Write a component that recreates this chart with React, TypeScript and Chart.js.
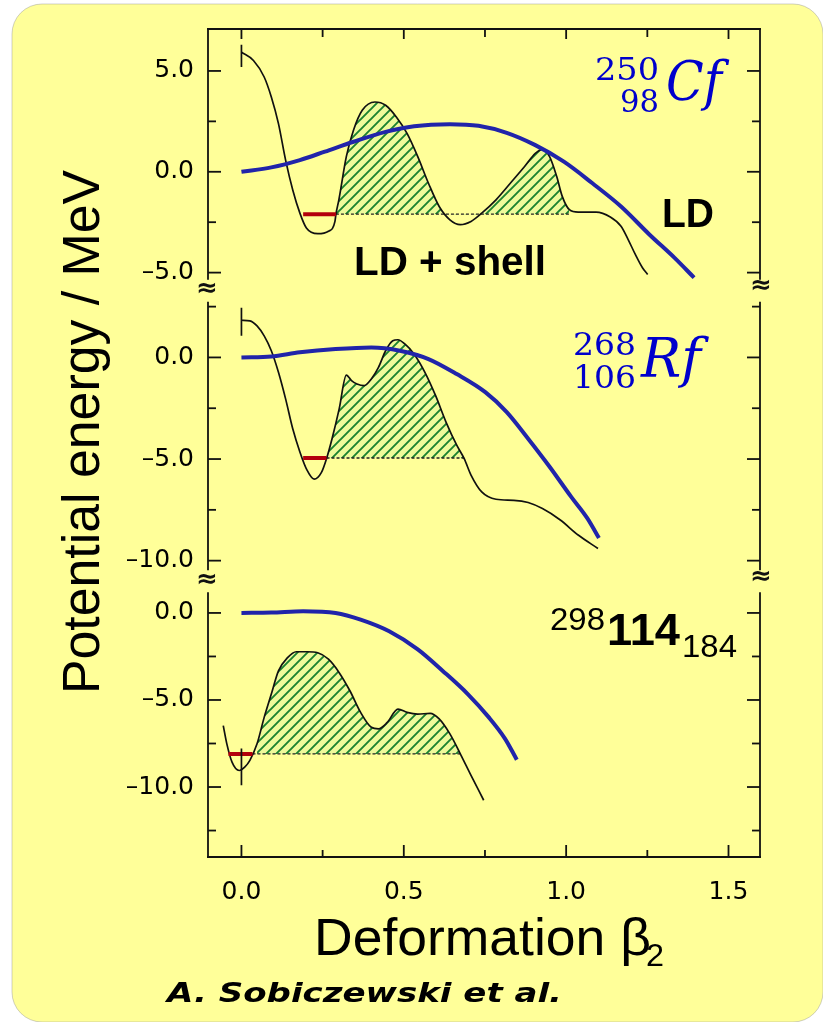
import React, { useEffect, useRef } from 'react';
import { Chart, registerables } from 'chart.js';
Chart.register(...registerables);

// ---------- data ----------
const betaTicks = [0, 0.25, 0.5, 0.75, 1, 1.25, 1.5];
const cfTicks = [-5, -2.5, 0, 2.5, 5];
const rfTicks = [-10, -7.5, -5, -2.5, 0, 2.5];
const shTicks = [-12.5, -10, -7.5, -5, -2.5, 0];

// 250Cf
const cfShellBeta = [0, 0.037, 0.07, 0.092, 0.114, 0.136, 0.158, 0.18, 0.2, 0.235, 0.268, 0.288, 0.291, 0.3, 0.323, 0.345, 0.372, 0.411, 0.444, 0.477, 0.51, 0.543, 0.576, 0.609, 0.642, 0.674, 0.707, 0.74, 0.784, 0.828, 0.872, 0.905, 0.927, 0.949, 0.971, 0.988, 1.01, 1.037, 1.092, 1.136, 1.169, 1.191, 1.213, 1.235, 1.251];
const cfShellE = [5.93, 5.52, 4.7, 3.71, 2.39, 0.58, -0.9, -2.05, -2.79, -3.07, -2.95, -2.46, -2.1, -1.39, 0.75, 2.06, 3.05, 3.46, 3.3, 2.72, 1.9, 0.75, -0.57, -1.72, -2.38, -2.62, -2.46, -2.05, -1.39, -0.57, 0.26, 0.91, 1.11, 0.75, -0.24, -1.22, -1.88, -2.0, -2.0, -2.24, -2.7, -3.36, -4.1, -4.76, -5.09];
const cfLdBeta = [0, 0.092, 0.18, 0.257, 0.345, 0.444, 0.532, 0.642, 0.73, 0.817, 0.905, 0.993, 1.081, 1.169, 1.257, 1.334, 1.394];
const cfLdE = [0, 0.22, 0.58, 1.0, 1.49, 1.98, 2.26, 2.36, 2.28, 1.93, 1.32, 0.5, -0.57, -1.72, -3.12, -4.27, -5.25];
const cfGround = -2.1;
const cfWell = [0.19, 0.291];
const cfBarrier = [0.291, 1.012];
const cfStartBar = [5.2, 6.3];

// 268Rf
const rfShellBeta = [0, 0.026, 0.048, 0.07, 0.092, 0.114, 0.136, 0.158, 0.18, 0.202, 0.224, 0.246, 0.262, 0.279, 0.301, 0.323, 0.339, 0.356, 0.378, 0.4, 0.422, 0.444, 0.466, 0.482, 0.504, 0.532, 0.565, 0.598, 0.63, 0.663, 0.686, 0.707, 0.74, 0.784, 0.839, 0.883, 0.927, 0.982, 1.037, 1.098];
const rfShellE = [1.83, 1.8, 1.55, 1.06, 0.33, -0.73, -2.04, -3.51, -4.65, -5.55, -5.99, -5.67, -4.98, -4.0, -2.53, -0.87, -1.14, -1.31, -1.39, -1.06, -0.49, 0.33, 0.82, 0.87, 0.65, 0.16, -0.73, -1.88, -3.18, -4.32, -4.98, -5.79, -6.62, -6.98, -7.03, -7.14, -7.44, -8.0, -8.74, -9.4];
const rfLdBeta = [0, 0.092, 0.18, 0.29, 0.4, 0.488, 0.576, 0.663, 0.751, 0.817, 0.883, 0.949, 1.015, 1.065, 1.101];
const rfLdE = [0, 0.05, 0.25, 0.41, 0.49, 0.33, -0.08, -0.82, -1.71, -2.69, -4.0, -5.38, -6.85, -7.91, -8.89];
const rfGround = -4.95;
const rfWell = [0.19, 0.262];
const rfBarrier = [0.262, 0.686];
const rfStartBar = [1.07, 2.45];

// 298-114-184
const shShellBeta = [-0.056, -0.045, -0.029, -0.007, 0.01, 0.026, 0.048, 0.07, 0.092, 0.114, 0.142, 0.169, 0.202, 0.235, 0.268, 0.301, 0.334, 0.367, 0.4, 0.422, 0.449, 0.482, 0.51, 0.543, 0.581, 0.609, 0.642, 0.674, 0.707, 0.746];
const shShellE = [-6.47, -7.52, -8.57, -9.05, -8.86, -8.47, -7.52, -6.0, -4.66, -3.33, -2.57, -2.23, -2.23, -2.29, -2.66, -3.43, -4.47, -5.71, -6.57, -6.66, -6.29, -5.52, -5.71, -5.81, -5.77, -6.09, -6.95, -8.09, -9.33, -10.76];
const shLdBeta = [0, 0.092, 0.19, 0.29, 0.367, 0.455, 0.543, 0.62, 0.697, 0.762, 0.812, 0.848];
const shLdE = [0, 0.02, 0.1, 0, -0.38, -1.05, -2.09, -3.33, -4.66, -6.0, -7.23, -8.43];
const shGround = -8.1;
const shWell = [-0.04, 0.034];
const shBarrier = [0.034, 0.674];
const shStartBar = [-7.79, -9.9];

// ---------- helpers ----------
const pts = (xs: number[], ys: number[]) => xs.map((x, i) => ({ x, y: ys[i] }));
const between = (xs: number[], ys: number[], a: number, b: number) =>
  pts(xs, ys).filter((p) => p.x >= a - 1e-9 && p.x <= b + 1e-9);

const fmt = (v: number) => (v < 0 ? '\u2013' + Math.abs(v).toFixed(1) : v.toFixed(1));
const tickFont = { family: '"DejaVu Sans", sans-serif', size: 25 };

function panelSets(axis: string, hatch: any, sb: number[], se: number[], lb: number[], le: number[], ground: number, well: number[], barrier: number[], bar: number[]) {
  const base = { yAxisID: axis, xAxisID: 'x', pointRadius: 0, pointHoverRadius: 0 };
  return [
    { ...base, data: between(sb, se, barrier[0], barrier[1]), borderWidth: 0, borderColor: 'rgba(0,0,0,0)', cubicInterpolationMode: 'monotone', fill: { target: { value: ground }, above: hatch, below: 'rgba(0,0,0,0)' }, order: 6 },
    { ...base, data: pts(barrier, [ground, ground]), borderColor: '#222', borderWidth: 1.3, borderDash: [3, 2], fill: false, order: 5 },
    { ...base, data: pts(sb, se), borderColor: '#111', borderWidth: 1.7, cubicInterpolationMode: 'monotone', fill: false, order: 3 },
    { ...base, data: pts(lb, le), borderColor: '#2124aa', borderWidth: 4, cubicInterpolationMode: 'monotone', fill: false, order: 2 },
    { ...base, data: pts(well, [ground, ground]), borderColor: '#b3000c', borderWidth: 4, fill: false, order: 1 },
    { ...base, data: pts([0, 0], bar), borderColor: '#111', borderWidth: 1.7, fill: false, order: 0 },
  ];
}

function fitText(c: CanvasRenderingContext2D, text: string, x: number, y: number, w: number, font: string, color: string) {
  c.save();
  c.font = font;
  c.fillStyle = color;
  c.textAlign = 'left';
  c.textBaseline = 'alphabetic';
  const m = c.measureText(text).width;
  c.translate(x, y);
  c.scale(w / m, 1);
  c.fillText(text, 0, 0);
  c.restore();
}

const decoPlugin = {
  id: 'deco',
  beforeDraw(chart: any) {
    const c: CanvasRenderingContext2D = chart.ctx;
    c.save();
    c.fillStyle = '#ffffff';
    c.fillRect(0, 0, chart.width, chart.height);
    const x0 = 12, y0 = 4, x1 = 823, y1 = 1022, r = 30;
    c.beginPath();
    c.moveTo(x0 + r, y0);
    c.lineTo(x1 - r, y0);
    c.arcTo(x1, y0, x1, y0 + r, r);
    c.lineTo(x1, y1 - r);
    c.arcTo(x1, y1, x1 - r, y1, r);
    c.lineTo(x0 + r, y1);
    c.arcTo(x0, y1, x0, y1 - r, r);
    c.lineTo(x0, y0 + r);
    c.arcTo(x0, y0, x0 + r, y0, r);
    c.closePath();
    c.fillStyle = '#FFFF99';
    c.fill();
    c.strokeStyle = 'rgba(150,150,150,0.45)';
    c.lineWidth = 1;
    c.stroke();
    c.restore();
  },
  afterDraw(chart: any) {
    const c: CanvasRenderingContext2D = chart.ctx;
    const { left: L, right: R, top: T, bottom: B } = chart.chartArea;
    const xs = chart.scales.x;
    c.save();
    c.strokeStyle = '#111';
    c.lineWidth = 1.8;
    const line = (a: number, b: number, d: number, e: number) => {
      c.beginPath();
      c.moveTo(a, b);
      c.lineTo(d, e);
      c.stroke();
    };
    line(L - 1, T, R + 1, T);
    line(L - 1, B, R + 1, B);
    const ids = ['y1', 'y2', 'y3'];
    ids.forEach((id, i) => {
      const s = chart.scales[id];
      const top = i === 0 ? s.top : s.top + 13;
      const bot = i === 2 ? s.bottom : s.bottom - 9;
      line(L, top, L, bot);
      line(R, top, R, bot);
      s.ticks.forEach((t: any) => {
        const y = s.getPixelForValue(t.value);
        const len = t.value % 5 === 0 ? 13 : 8;
        line(L, y, L + len, y);
        line(R, y, R - len, y);
      });
    });
    xs.ticks.forEach((t: any) => {
      const x = xs.getPixelForValue(t.value);
      const major = Math.abs(t.value * 2 - Math.round(t.value * 2)) < 1e-6;
      line(x, B, x, B - (major ? 12 : 7));
      line(x, T, x, T + (major ? 10 : 8));
    });
    // axis break marks
    c.fillStyle = '#111';
    c.font = 'bold 26px "DejaVu Sans"';
    c.textAlign = 'center';
    c.textBaseline = 'middle';
    [chart.scales.y1.bottom, chart.scales.y2.bottom].forEach((yb: number) => {
      c.fillText('\u2248', L - 1, yb + 1);
      c.fillText('\u2248', R + 1, yb - 2);
    });
    c.restore();

    // axis titles
    c.save();
    c.font = '51px "Liberation Sans", Arial, sans-serif';
    c.fillStyle = '#000';
    const yt = 'Potential energy / MeV';
    const m = c.measureText(yt).width;
    c.translate(99, 432);
    c.rotate(-Math.PI / 2);
    c.scale(524 / m, 1);
    c.textBaseline = 'alphabetic';
    c.fillText(yt, -m / 2, 0);
    c.restore();

    fitText(c, 'Deformation \u03B2', 314, 955, 337, '52px "Liberation Sans", Arial, sans-serif', '#000');
    fitText(c, '2', 646, 966, 18, '32px "Liberation Sans", Arial, sans-serif', '#000');
    fitText(c, 'A. Sobiczewski et al.', 167, 1002, 395, 'italic bold 27px "DejaVu Sans", sans-serif', '#000');

    // panel annotations
    const blue = '#0000cc';
    const serif = '"DejaVu Serif", serif';
    fitText(c, '250', 595, 80, 64, '32px ' + serif, blue);
    fitText(c, '98', 620, 112, 39, '32px ' + serif, blue);
    fitText(c, 'Cf', 666, 100, 56, 'italic 54px ' + serif, blue);
    fitText(c, '268', 573, 355, 63, '32px ' + serif, blue);
    fitText(c, '106', 573, 388, 63, '32px ' + serif, blue);
    fitText(c, 'Rf', 641, 377, 60, 'italic 54px ' + serif, blue);

    const sans = '"Liberation Sans", Arial, sans-serif';
    fitText(c, 'LD + shell', 354, 275, 192, 'bold 41px ' + sans, '#000');
    fitText(c, 'LD', 662, 227, 52, 'bold 40px ' + sans, '#000');
    fitText(c, '298', 550, 630, 55, '31px ' + sans, '#000');
    fitText(c, '114', 607, 645, 73, 'bold 44px ' + sans, '#000');
    fitText(c, '184', 682, 657, 55, '31px ' + sans, '#000');
  },
};

function yScale(ticks: number[], min: number, max: number, weight: number, stackWeight: number) {
  return {
    type: 'linear',
    position: 'left',
    stack: 'panels',
    stackWeight,
    weight,
    min,
    max,
    grid: { display: false, drawTicks: false },
    border: { display: false },
    ticks: {
      padding: 14,
      autoSkip: false,
      color: '#000',
      font: tickFont,
      callback: (v: number) => (v % 5 === 0 ? fmt(v) : ''),
    },
    afterBuildTicks: (s: any) => {
      s.ticks = ticks.map((v) => ({ value: v }));
    },
    afterFit: (s: any) => {
      s.width = 208;
    },
  };
}

export default function App() {
  const ref = useRef<HTMLCanvasElement | null>(null);
  useEffect(() => {
    const canvas = ref.current;
    if (!canvas) return;
    const ctx = canvas.getContext('2d')!;
    const tile = document.createElement('canvas');
    tile.width = 10;
    tile.height = 10;
    const t = tile.getContext('2d')!;
    t.fillStyle = 'rgba(200,240,160,0.3)';
    t.fillRect(0, 0, 10, 10);
    t.strokeStyle = '#1a8230';
    t.lineWidth = 1.9;
    t.beginPath();
    t.moveTo(-1, 11);
    t.lineTo(11, -1);
    t.moveTo(-1, 1);
    t.lineTo(1, -1);
    t.moveTo(9, 11);
    t.lineTo(11, 9);
    t.stroke();
    const hatch = ctx.createPattern(tile, 'repeat');

    const datasets = [
      ...panelSets('y1', hatch, cfShellBeta, cfShellE, cfLdBeta, cfLdE, cfGround, cfWell, cfBarrier, cfStartBar),
      ...panelSets('y2', hatch, rfShellBeta, rfShellE, rfLdBeta, rfLdE, rfGround, rfWell, rfBarrier, rfStartBar),
      ...panelSets('y3', hatch, shShellBeta, shShellE, shLdBeta, shLdE, shGround, shWell, shBarrier, shStartBar),
    ];

    const chart = new Chart(ctx, {
      type: 'line',
      data: { datasets } as any,
      options: {
        animation: false,
        responsive: false,
        maintainAspectRatio: false,
        layout: { padding: { top: 25, right: 63, left: 0, bottom: 0 } },
        plugins: { legend: { display: false }, tooltip: { enabled: false } },
        scales: {
          x: {
            type: 'linear',
            position: 'bottom',
            min: -0.103,
            max: 1.597,
            grid: { display: false, drawTicks: false },
            border: { display: false },
            ticks: {
              padding: 20,
              autoSkip: false,
              maxRotation: 0,
              color: '#000',
              font: tickFont,
              callback: (v: number) => (Math.abs(v * 2 - Math.round(v * 2)) < 1e-6 ? v.toFixed(1) : ''),
            },
            afterBuildTicks: (s: any) => {
              s.ticks = betaTicks.map((v) => ({ value: v }));
            },
            afterFit: (s: any) => {
              s.height = 165;
            },
          },
          y1: yScale(cfTicks, -5.8, 7.08, 3, 261),
          y2: yScale(rfTicks, -10.92, 3.38, 2, 292),
          y3: yScale(shTicks, -14.02, 1.93, 1, 279),
        } as any,
      },
      plugins: [decoPlugin],
    });
    return () => chart.destroy();
  }, []);
  return (
    <canvas
      ref={ref}
      width={823}
      height={1022}
      style={{ position: 'fixed', left: 0, top: 0, display: 'block', width: 823, height: 1022 }}
    />
  );
}
